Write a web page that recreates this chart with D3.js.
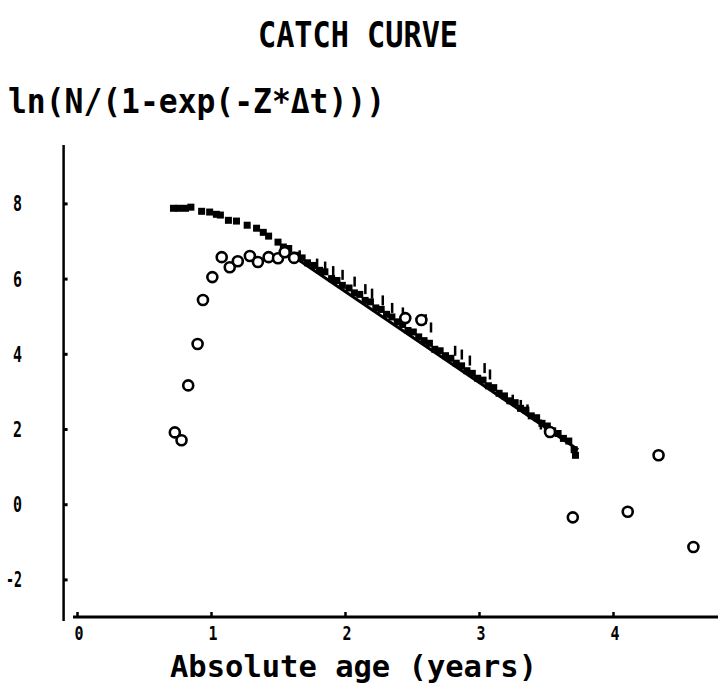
<!DOCTYPE html>
<html><head><meta charset="utf-8">
<script src="https://cdn.jsdelivr.net/npm/d3@7/dist/d3.min.js"></script>
<style>html,body{margin:0;padding:0;background:#fff;}</style>
</head><body>
<script>
// ---- data ----
const titleText = "CATCH CURVE";
const yLabelText = "ln(N/(1-exp(-Z*\u0394t)))";
const xLabelText = "Absolute age (years)";
const xTicks = [0, 1, 2, 3, 4];
const yTicks = [8, 6, 4, 2, 0, -2];

// open circles
const circAge = [0.73,0.78,0.83,0.90,0.94,1.01,1.08,1.14,1.20,1.29,1.35,1.43,1.50,1.55,1.62,2.45,2.57,3.53,3.70,4.11,4.34,4.60];
const circVal = [1.91,1.70,3.16,4.26,5.43,6.04,6.57,6.30,6.46,6.60,6.44,6.57,6.54,6.70,6.55,4.95,4.90,1.92,-0.35,-0.20,1.30,-1.14];

// filled squares
const sqAge = [0.72,0.76,0.81,0.85,0.93,0.99,1.04,1.07,1.13,1.19,1.27,1.34,1.39,1.43,1.50,1.54,
  1.58,1.63,1.68,1.72,1.77,1.81,1.85,1.90,1.94,1.98,2.03,2.07,2.11,2.15,2.19,2.23,2.27,2.31,2.35,2.39,
  2.43,2.47,2.51,2.55,2.59,2.63,2.67,2.71,2.75,2.79,2.83,2.87,2.91,2.95,2.99,3.03,3.07,3.11,3.15,3.19,
  3.23,3.27,3.31,3.35,3.39,3.43,3.47,3.51,3.55,3.59,3.63,3.67,3.71,3.72];
const sqVal = [7.87,7.87,7.87,7.90,7.79,7.77,7.71,7.69,7.55,7.53,7.42,7.34,7.23,7.13,6.97,6.84,
  6.80,6.62,6.55,6.42,6.35,6.22,6.18,6.00,5.95,5.82,5.75,5.62,5.58,5.42,5.38,5.22,5.18,5.05,4.98,4.85,
  4.78,4.62,4.58,4.45,4.35,4.28,4.12,4.08,3.95,3.88,3.75,3.68,3.55,3.48,3.35,3.30,3.15,3.10,2.95,2.88,
  2.75,2.70,2.55,2.50,2.35,2.30,2.15,2.08,1.95,1.88,1.75,1.68,1.45,1.30];

// small vertical marks
const tkAge = [1.66,1.79,1.85,1.91,1.98,2.07,2.15,2.20,2.28,2.35,2.43,2.60,2.64,2.82,2.87,2.93,3.04,3.08,3.25,3.31,3.36,3.46];
const tkVal = [6.62,6.40,6.32,6.20,6.10,5.92,5.72,5.60,5.42,5.22,5.10,4.92,4.70,4.08,3.98,3.82,3.62,3.45,2.78,2.64,2.52,2.12];

// fitted regression line endpoints
const fitAge = [1.52, 3.74];
const fitVal = [6.82, 1.45];

// ---- drawing ----
const W = 718, H = 691;
const svg = d3.select("body").append("svg").attr("width", W).attr("height", H);
const x = d3.scaleLinear().domain([0, 4.8]).range([77, 720.2]);
const y = d3.scaleLinear().domain([-3, 9.5]).range([617, 147]);
const font = "'DejaVu Sans Mono', monospace";

// title & labels
svg.append("text").attr("x", 258).attr("y", 47).attr("textLength", 200).attr("lengthAdjust","spacingAndGlyphs")
  .attr("font-family", font).attr("font-weight","bold").attr("font-size", 36).text(titleText);
svg.append("text").attr("x", 8).attr("y", 113).attr("textLength", 377).attr("lengthAdjust","spacingAndGlyphs")
  .attr("font-family", font).attr("font-weight","bold").attr("font-size", 33).text(yLabelText);
svg.append("text").attr("x", 170).attr("y", 677).attr("textLength", 367).attr("lengthAdjust","spacingAndGlyphs")
  .attr("font-family", font).attr("font-weight","bold").attr("font-size", 30).text(xLabelText);

// axes
const yAxisX = x(-0.1);
svg.append("line").attr("x1", yAxisX).attr("x2", yAxisX).attr("y1", 145).attr("y2", 621)
  .attr("stroke","#000").attr("stroke-width",2.5);
svg.append("line").attr("x1", x(-0.03)).attr("x2", W).attr("y1", y(-3)).attr("y2", y(-3))
  .attr("stroke","#000").attr("stroke-width",3);

const yAx = d3.axisRight(y).tickValues(yTicks).tickSize(4).tickFormat("");
const gy = svg.append("g").attr("transform",`translate(${yAxisX},0)`).call(yAx);
gy.select(".domain").remove();
gy.selectAll(".tick line").attr("stroke","#000").attr("stroke-width",3);
svg.selectAll(".ylab").data(yTicks).join("text").attr("class","ylab")
  .attr("x", 22).attr("y", d => y(d) + 8).attr("text-anchor","end")
  .attr("textLength", d => String(d).length > 1 ? 16 : 9).attr("lengthAdjust","spacingAndGlyphs")
  .attr("font-family", font).attr("font-weight","bold").attr("font-size", 22).text(d => d);

const xAx = d3.axisTop(x).tickValues(xTicks).tickSize(5).tickFormat("");
const gx = svg.append("g").attr("transform",`translate(0,${y(-3)})`).call(xAx);
gx.select(".domain").remove();
gx.selectAll(".tick line").attr("stroke","#000").attr("stroke-width",2.5);
svg.selectAll(".xlab").data(xTicks).join("text").attr("class","xlab")
  .attr("x", d => x(d) + 2).attr("y", 640).attr("text-anchor","middle")
  .attr("textLength", 9).attr("lengthAdjust","spacingAndGlyphs")
  .attr("font-family", font).attr("font-weight","bold").attr("font-size", 19).text(d => d);

// fit line
const fit = fitAge.map((a,i) => [a, fitVal[i]]);
svg.append("path").datum(fit).attr("fill","none").attr("stroke","#000").attr("stroke-width",3)
  .attr("d", d3.line().x(d => x(d[0])).y(d => y(d[1])));

// squares
const sq = sqAge.map((a,i) => [a, sqVal[i]]);
svg.selectAll(".sq").data(sq).join("rect").attr("class","sq")
  .attr("x", d => x(d[0]) - 3.5).attr("y", d => y(d[1]) - 3.5).attr("width",7).attr("height",7).attr("fill","#000");

// ticks
const tk = tkAge.map((a,i) => [a, tkVal[i]]);
svg.selectAll(".tk").data(tk).join("rect").attr("class","tk")
  .attr("x", d => x(d[0]) - 1).attr("y", d => y(d[1]) - 5).attr("width",2.5).attr("height",10).attr("fill","#000");

// circles
const ci = circAge.map((a,i) => [a, circVal[i]]);
svg.selectAll(".ci").data(ci).join("circle").attr("class","ci")
  .attr("cx", d => x(d[0])).attr("cy", d => y(d[1])).attr("r",5)
  .attr("fill","#fff").attr("stroke","#000").attr("stroke-width",2.6);
</script>
</body></html>
